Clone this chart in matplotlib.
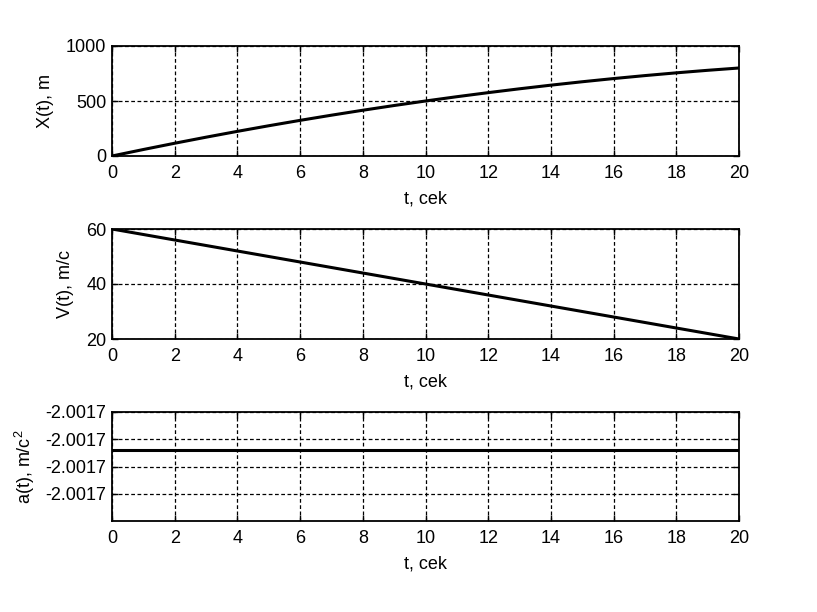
import matplotlib
matplotlib.use('Agg')
import matplotlib.pyplot as plt
import numpy as np

plt.rcParams['font.family'] = ['Liberation Sans', 'DejaVu Sans']
plt.rcParams['mathtext.default'] = 'regular'
plt.rcParams['font.size'] = 13

# время, с
t = [0, 1, 2, 3, 4, 5, 6, 7, 8, 9, 10, 11, 12, 13, 14, 15, 16, 17, 18, 19, 20]
# координата, м
x_t = [0, 59, 116, 171, 224, 275, 324, 371, 416, 459, 500,
       539, 576, 611, 644, 675, 704, 731, 756, 779, 800]
# скорость, м/с
v_t = [60, 58, 56, 54, 52, 50, 48, 46, 44, 42, 40,
       38, 36, 34, 32, 30, 28, 26, 24, 22, 20]
# ускорение, м/с^2
a_t = [-2.0017028] * len(t)

x_ticks = [0, 2, 4, 6, 8, 10, 12, 14, 16, 18, 20]
a_ticks = [-2.001700, -2.001702, -2.001704, -2.001706]

fig = plt.figure(figsize=(8.17, 6.12), dpi=100)
L, W, H = 112 / 817, 627 / 817, 110 / 612
ax1 = fig.add_axes([L, 1 - 156 / 612, W, H])
ax2 = fig.add_axes([L, 1 - 339 / 612, W, H])
ax3 = fig.add_axes([L, 1 - 521 / 612, W, 109 / 612])


def style(ax):
    ax.set_xlim(0, 20)
    ax.set_xticks(x_ticks)
    ax.grid(True, color='black', linestyle=(0, (3, 2)), linewidth=0.9)
    ax.tick_params(direction='in', top=True, right=True, length=4,
                   width=1, colors='black', pad=4)
    ax.tick_params(axis='x', pad=6.5)
    for s in ax.spines.values():
        s.set_linewidth(1.3)
    ax.set_xlabel('t, cek', labelpad=6)


ax1.plot(t, x_t, color='black', linewidth=2.2)
ax1.set_ylim(0, 1000)
ax1.set_yticks([0, 500, 1000])
ax1.set_ylabel('X(t), m', labelpad=9)
style(ax1)

ax2.plot(t, v_t, color='black', linewidth=2.2)
ax2.set_ylim(20, 60)
ax2.set_yticks([20, 40, 60])
ax2.set_ylabel('V(t), m/c', labelpad=9)
style(ax2)

ax3.plot(t, a_t, color='black', linewidth=2.2)
ax3.set_ylim(-2.001708, -2.001700)
ax3.set_yticks(a_ticks)
ax3.set_yticklabels(['%.4f' % v for v in a_ticks])
ax3.set_ylabel('a(t), m/c$^2$', labelpad=6)
style(ax3)

fig.savefig('out.png', dpi=100)
